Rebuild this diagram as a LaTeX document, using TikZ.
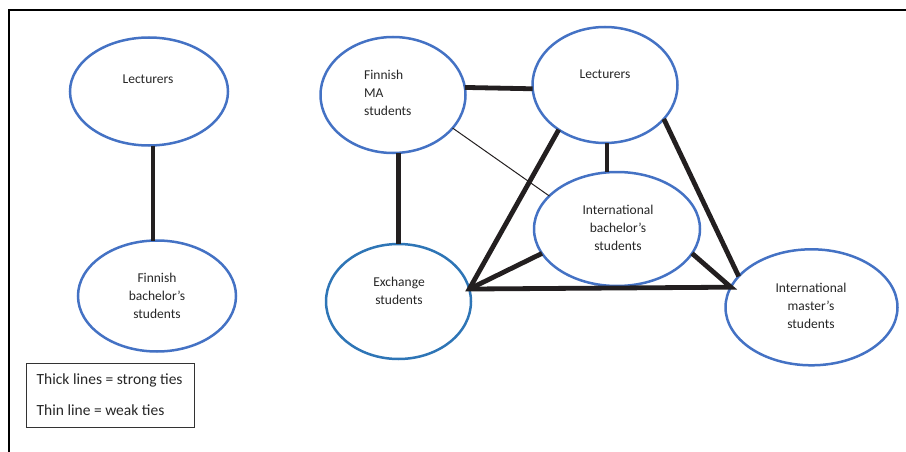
\documentclass[tikz,border=0pt]{standalone}
\usepackage{fontspec}
\setmainfont{Carlito}
\usetikzlibrary{shapes.geometric}

\definecolor{ringblue}{RGB}{68,114,196}
\definecolor{ringteal}{RGB}{46,117,182}
\definecolor{tie}{RGB}{35,31,32}
\definecolor{ink}{RGB}{38,38,38}

\tikzset{
  group/.style={ellipse, draw=ringblue, line width=2.5pt, inner sep=0pt, outer sep=0pt},
  caption/.style={font=\fontsize{13.5}{18}\selectfont, text=ink, inner sep=0pt, anchor=base},
  keytext/.style={font=\fontsize{15.5}{18}\selectfont, text=ink, inner sep=0pt, anchor=base west},
  strongtie/.style={draw=tie, line width=4.8pt, line join=miter},
  weaktie/.style={draw=tie, line width=1pt},
}

\begin{document}
\begin{tikzpicture}[x=1pt, y=-1pt]
  \useasboundingbox (0,0) rectangle (906,452);

  % outer frame (top and left edges)
  \draw[line width=2pt, black] (9,452) -- (9,10) -- (906,10);

  % ---- left network ----
  \node[group, minimum width=158pt, minimum height=108pt] (lecL) at (149,91.5) {};
  \node[caption] (lecLt) at (148,84) {Lecturers};

  \node[group, minimum width=158pt, minimum height=111pt] (finB) at (157,296) {};
  \node[caption] (finBt1) at (157,282) {Finnish};
  \node[caption] (finBt2) at (157,300) {bachelor’s};
  \node[caption] (finBt3) at (157,318) {students};

  \draw[strongtie] ([xshift=4pt]lecL.south) -- ([xshift=-4pt]finB.north);

  % ---- right network ----
  \node[group, minimum width=145pt, minimum height=116pt] (finMA) at (393,95) {};
  \node[caption, anchor=base west] (finMAt1) at (364,80) {Finnish};
  \node[caption, anchor=base west] (finMAt2) at (364,98) {MA};
  \node[caption, anchor=base west] (finMAt3) at (364,116) {students};

  \node[group, minimum width=145pt, minimum height=116pt] (lecR) at (605,85) {};
  \node[caption] (lecRt) at (605,79) {Lecturers};

  \node[group, minimum width=166pt, minimum height=114pt] (intB) at (617,229) {};
  \node[caption] (intBt1) at (618,214) {International};
  \node[caption] (intBt2) at (618,232) {bachelor’s};
  \node[caption] (intBt3) at (618,250) {students};

  \node[group, draw=ringteal, minimum width=145pt, minimum height=115pt] (exch) at (398.5,301.5) {};
  \node[caption] (excht1) at (399,286) {Exchange};
  \node[caption] (excht2) at (399,304) {students};

  \node[group, minimum width=172pt, minimum height=116pt] (intM) at (811.5,307.3) {};
  \node[caption] (intMt1) at (811,292) {International};
  \node[caption] (intMt2) at (811,310) {master’s};
  \node[caption] (intMt3) at (811,328) {students};

  % meeting points of the triangle
  \coordinate (apex) at (exch.10);
  \coordinate (mtip) at (intM.166);

  % ties
  \draw[strongtie] (finMA.6) -- (lecR.183);
  \draw[strongtie] (exch.north |- finMA.south) -- (exch.north);
  \draw[weaktie] (finMA.331) -- (intB.154);
  \draw[strongtie] ([xshift=2pt]lecR.south) -- ([xshift=-10pt]intB.north);
  \draw[strongtie] (lecR.224) -- (apex) -- (mtip) -- (intB.342);
  \draw[strongtie] (apex) -- (intB.198);
  \draw[strongtie] (lecR.330) -- (intM.157);

  % legend
  \node[draw=black!80, line width=1pt, anchor=north west, inner sep=0pt,
        minimum width=168.5pt, minimum height=64.5pt] (key) at (25.7,362.7) {};
  \node[keytext] (key1) at (36.5,384) {Thick lines = strong ties};
  \node[keytext] (key2) at (36.5,415) {Thin line = weak ties};
\end{tikzpicture}
\end{document}
